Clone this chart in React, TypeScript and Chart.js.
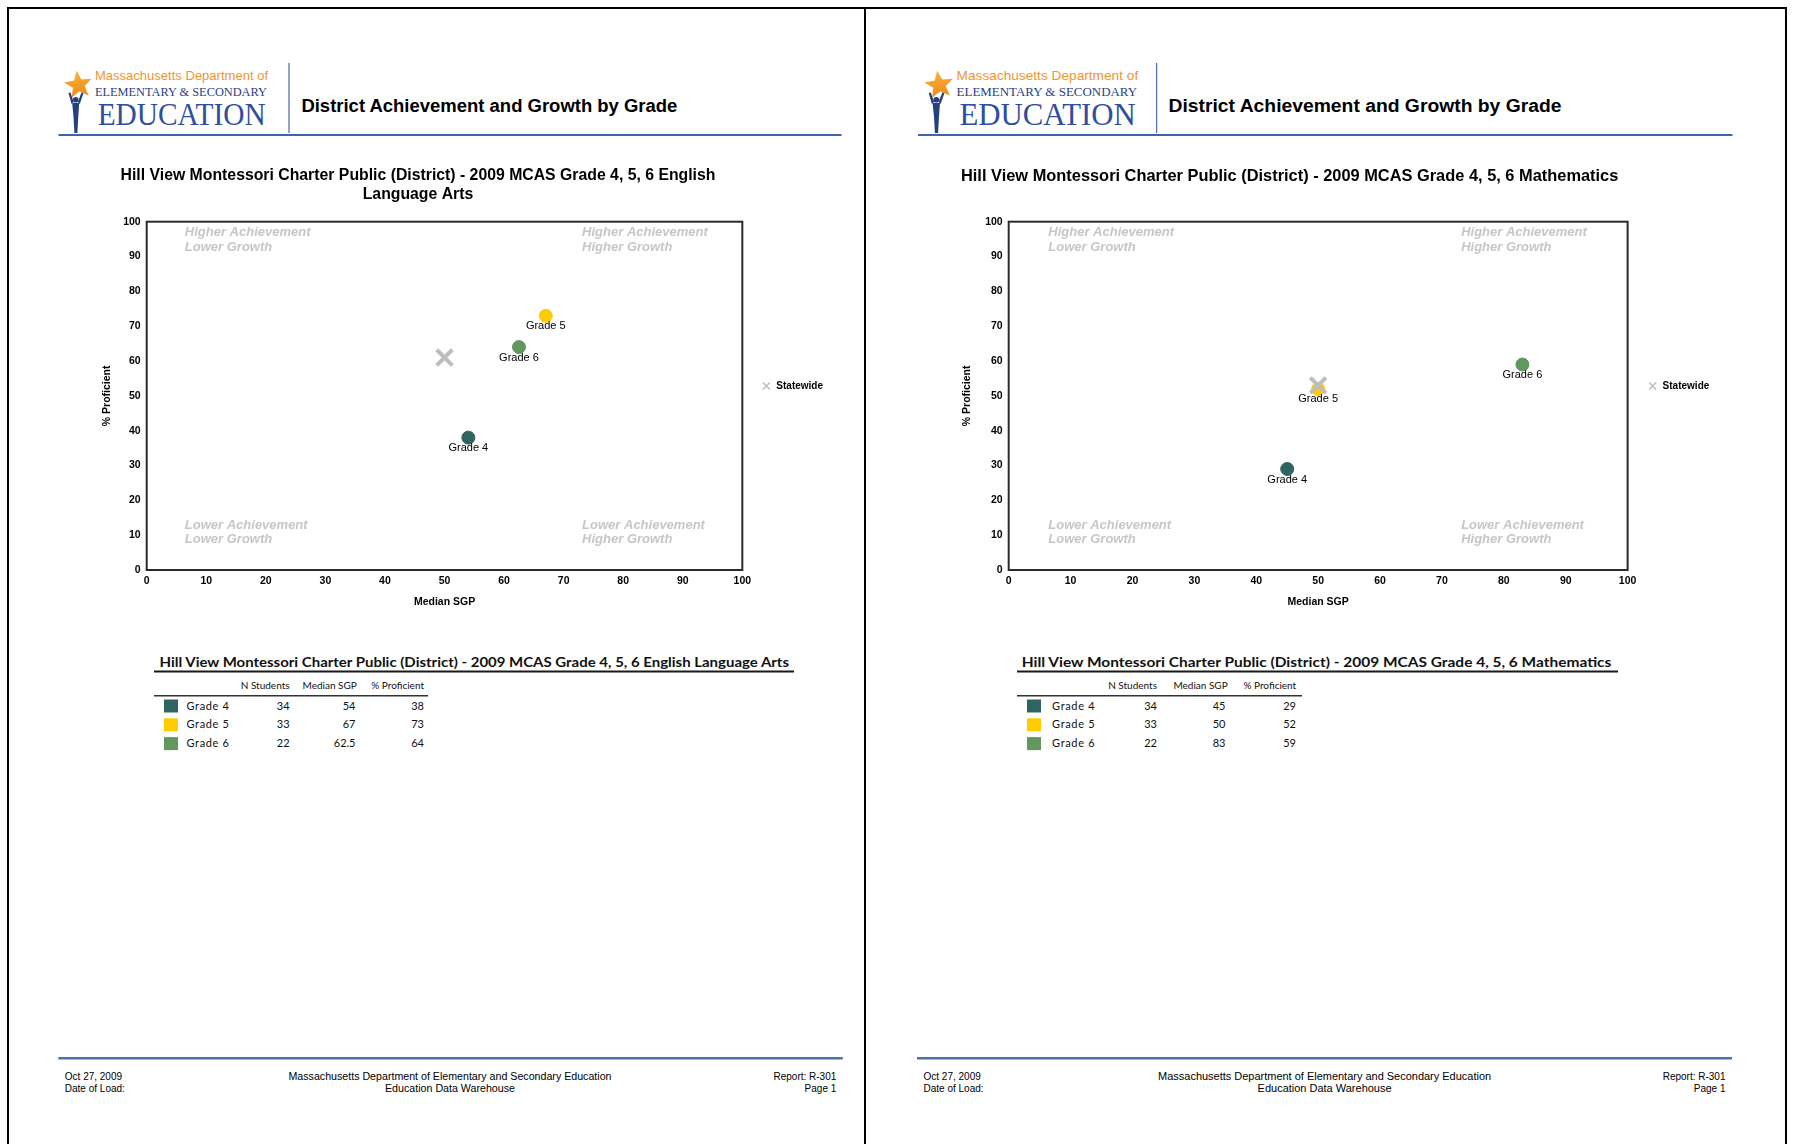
import React, { useEffect, useRef } from "react";
import { Chart, registerables } from "chart.js";

Chart.register(...registerables);

// ---------------- data ----------------
const GRADE_LABELS = ["Grade 4", "Grade 5", "Grade 6"];
const GRADE_COLORS = ["#2F6460", "#FFCC00", "#62985E"];

const ELA_N_STUDENTS = [34, 33, 22];
const ELA_MEDIAN_SGP = [54, 67, 62.5];
const ELA_PCT_PROFICIENT = [38, 73, 64];

const MATH_N_STUDENTS = [34, 33, 22];
const MATH_MEDIAN_SGP = [45, 50, 83];
const MATH_PCT_PROFICIENT = [29, 52, 59];

const STATEWIDE_LABEL = "Statewide";
const STATEWIDE_COLOR = "#BDBDBD";
const ELA_STATEWIDE = [50, 61]; // [median SGP, % proficient]
const MATH_STATEWIDE = [50, 53];

const AXIS_MIN = 0;
const AXIS_MAX = 100;
const AXIS_STEP = 10;
const X_AXIS_TITLE = "Median SGP";
const Y_AXIS_TITLE = "% Proficient";

const QUADRANT_TEXT = [
  ["Higher Achievement", "Lower Growth"],
  ["Higher Achievement", "Higher Growth"],
  ["Lower Achievement", "Lower Growth"],
  ["Lower Achievement", "Higher Growth"],
];
// anchors of the quadrant captions, in axis units
const QUADRANT_ANCHOR_X = [6.4, 73.1, 6.4, 73.1];
const QUADRANT_ANCHOR_Y = [96.8, 96.8, 12.9, 12.9];

const TABLE_COLUMNS = ["N Students", "Median SGP", "% Proficient"];

const ELA_TITLE_LINES = [
  "Hill View Montessori Charter Public (District) - 2009 MCAS Grade 4, 5, 6 English",
  "Language Arts",
];
const MATH_TITLE_LINES = [
  "Hill View Montessori Charter Public (District) - 2009 MCAS Grade 4, 5, 6 Mathematics",
];
const ELA_TABLE_TITLE =
  "Hill View Montessori Charter Public (District) - 2009 MCAS Grade 4, 5, 6 English Language Arts";
const MATH_TABLE_TITLE =
  "Hill View Montessori Charter Public (District) - 2009 MCAS Grade 4, 5, 6 Mathematics";

const REPORT_TITLE = "District Achievement and Growth by Grade";
const FOOTER_DATE = "Oct 27, 2009";
const FOOTER_LOAD = "Date of Load:";
const FOOTER_ORG = "Massachusetts Department of Elementary and Secondary Education";
const FOOTER_WAREHOUSE = "Education Data Warehouse";
const FOOTER_REPORT = "Report: R-301";
const FOOTER_PAGE = "Page 1";

// ---------------- styles ----------------
const SANS = "'Liberation Sans', Arial, sans-serif";
const SERIF = "'Liberation Serif', 'Times New Roman', serif";
const TABLE_FONT = "Lato, 'Open Sans', sans-serif";
const RULE_BLUE = "#3F65A6";

Chart.defaults.font.family = SANS;

// ---------------- chart plugins ----------------
const framePlugin = {
  id: "plotFrame",
  beforeDatasetsDraw(chart: any) {
    const { ctx, chartArea } = chart;
    ctx.save();
    ctx.strokeStyle = "#2b2b2b";
    ctx.lineWidth = 2;
    ctx.strokeRect(chartArea.left, chartArea.top, chartArea.right - chartArea.left, chartArea.bottom - chartArea.top);
    ctx.restore();
  },
};

const quadrantPlugin = {
  id: "quadrantCaptions",
  beforeDatasetsDraw(chart: any) {
    const { ctx, scales } = chart;
    ctx.save();
    ctx.font = `italic bold 13px ${SANS}`;
    ctx.fillStyle = "#C6C6C6";
    ctx.textAlign = "left";
    ctx.textBaseline = "middle";
    QUADRANT_TEXT.forEach((lines, i) => {
      const px = scales.x.getPixelForValue(QUADRANT_ANCHOR_X[i]);
      const py = scales.y.getPixelForValue(QUADRANT_ANCHOR_Y[i]);
      lines.forEach((t, j) => ctx.fillText(t, px, py + j * 14.8));
    });
    ctx.restore();
  },
};

const pointLabelPlugin = {
  id: "pointCaptions",
  afterDatasetsDraw(chart: any) {
    const { ctx } = chart;
    ctx.save();
    ctx.font = `11px ${SANS}`;
    ctx.fillStyle = "#000";
    ctx.textAlign = "center";
    ctx.textBaseline = "middle";
    chart.data.datasets.forEach((ds: any, i: number) => {
      if (!ds.pointCaption) return;
      const meta = chart.getDatasetMeta(i);
      meta.data.forEach((el: any) => ctx.fillText(ds.pointCaption, el.x, el.y + 10.5));
    });
    ctx.restore();
  },
};

type PanelProps = {
  left: number;
  top: number;
  width: number;
  height: number;
  padRight: number;
  yAxisWidth: number;
  yTitlePad: number;
  legendPad: number;
  titleLines: string[];
  titleSize: number;
  titlePadTop: number;
  titlePadBottom: number;
  sgp: number[];
  prof: number[];
  state: number[];
};

function ScatterPanel(p: PanelProps) {
  const ref = useRef<HTMLCanvasElement | null>(null);
  useEffect(() => {
    if (!ref.current) return;
    const datasets: any[] = [
      {
        label: STATEWIDE_LABEL,
        data: [{ x: p.state[0], y: p.state[1] }],
        pointStyle: "crossRot",
        pointRadius: 11,
        pointBorderWidth: 4,
        pointBorderColor: STATEWIDE_COLOR,
        pointBackgroundColor: STATEWIDE_COLOR,
        borderColor: STATEWIDE_COLOR,
        backgroundColor: STATEWIDE_COLOR,
      },
      ...GRADE_LABELS.map((g, i) => ({
        label: g,
        pointCaption: g,
        data: [{ x: p.sgp[i], y: p.prof[i] }],
        pointStyle: "circle",
        pointRadius: 6.5,
        pointBorderWidth: 1,
        pointBackgroundColor: GRADE_COLORS[i],
        pointBorderColor: GRADE_COLORS[i],
        borderColor: GRADE_COLORS[i],
        backgroundColor: GRADE_COLORS[i],
      })),
    ];
    const tickFont = { size: 10.5, weight: "bold" as const };
    const chart = new Chart(ref.current, {
      type: "scatter",
      data: { datasets },
      plugins: [framePlugin, quadrantPlugin, pointLabelPlugin],
      options: {
        responsive: false,
        animation: false,
        devicePixelRatio: 1,
        events: [],
        layout: { padding: { left: 0, right: p.padRight, top: 0, bottom: 0 } },
        scales: {
          x: {
            type: "linear",
            position: "bottom",
            min: AXIS_MIN,
            max: AXIS_MAX,
            ticks: { stepSize: AXIS_STEP, padding: 5, color: "#000", font: tickFont },
            grid: { display: false, drawTicks: false },
            border: { display: false },
            title: {
              display: true,
              text: X_AXIS_TITLE,
              color: "#000",
              font: { size: 10.5, weight: "bold" },
              padding: { top: 0, bottom: 9 },
            },
            afterFit: (s: any) => {
              s.height = 47;
            },
          },
          y: {
            type: "linear",
            position: "left",
            min: AXIS_MIN,
            max: AXIS_MAX,
            ticks: { stepSize: AXIS_STEP, padding: 6, color: "#000", font: tickFont },
            grid: { display: false, drawTicks: false },
            border: { display: false },
            title: {
              display: true,
              text: Y_AXIS_TITLE,
              color: "#000",
              font: { size: 10.5, weight: "bold" },
              padding: { top: p.yTitlePad, bottom: 0 },
            },
            afterFit: (s: any) => {
              s.width = p.yAxisWidth;
            },
          },
        },
        plugins: {
          title: {
            display: true,
            text: p.titleLines,
            color: "#000",
            font: { size: p.titleSize, weight: "bold", lineHeight: 1.15 },
            padding: { top: p.titlePadTop, bottom: p.titlePadBottom },
          },
          legend: {
            display: true,
            position: "right",
            align: "center",
            labels: {
              usePointStyle: true,
              boxWidth: 10,
              boxHeight: 7,
              padding: p.legendPad,
              color: "#000",
              font: { size: 10, weight: "bold" },
              filter: (item: any) => item.text === STATEWIDE_LABEL,
              generateLabels: (c: any) =>
                (Chart.defaults.plugins.legend.labels.generateLabels as any)(c).map((l: any) => ({
                  ...l,
                  lineWidth: 1.5,
                  strokeStyle: STATEWIDE_COLOR,
                })),
            },
          },
          tooltip: { enabled: false },
        },
      } as any,
    });
    return () => chart.destroy();
  }, []);
  return (
    <canvas
      ref={ref}
      width={p.width}
      height={p.height}
      style={{ position: "absolute", left: p.left, top: p.top, width: p.width, height: p.height }}
    />
  );
}

// ---------------- static report parts ----------------
function starPoints(cx: number, cy: number, R: number, r: number) {
  const pts: string[] = [];
  for (let k = 0; k < 10; k++) {
    const a = -Math.PI / 2 + k * (Math.PI / 5);
    const rad = k % 2 === 0 ? R : r;
    pts.push(`${(cx + rad * Math.cos(a)).toFixed(2)},${(cy + rad * Math.sin(a)).toFixed(2)}`);
  }
  return pts.join(" ");
}

function Logo({ x, sx }: { x: number; sx: number }) {
  return (
    <g transform={`translate(${x},0) scale(${sx},1)`}>
      <defs>
        <linearGradient id={`starGrad${x}`} x1="0" y1="0" x2="0" y2="1">
          <stop offset="0" stopColor="#F9B233" />
          <stop offset="1" stopColor="#EE8A1C" />
        </linearGradient>
      </defs>
      <polygon points={starPoints(14.5, 85, 14.5, 6.2)} fill={`url(#starGrad${x})`} transform="rotate(-8 14.5 85)" />
      <circle cx={11.7} cy={99.8} r={2.8} fill="#23407F" />
      <path d="M7.5 104 L4.5 93 L6.5 92.5 L9.6 102 Z" fill="#23407F" />
      <path d="M15.8 104 L19.5 93 L17.5 92.5 L13.8 102 Z" fill="#23407F" />
      <path d="M8.2 103 L15.2 103 L14.2 118 L13.4 133 L10.4 133 L9.6 118 Z" fill="#23407F" />
      <text x={31} y={80} fontFamily={SANS} fontSize={12} fill="#F0952E" textLength={173} lengthAdjust="spacingAndGlyphs">
        Massachusetts Department of
      </text>
      <text x={31} y={96.3} fontFamily={SERIF} fontSize={13} fill="#2B3F86" textLength={172} lengthAdjust="spacingAndGlyphs">
        ELEMENTARY &amp; SECONDARY
      </text>
      <text x={33.7} y={124.7} fontFamily={SERIF} fontSize={31} fill="#2F4E9E" textLength={168} lengthAdjust="spacingAndGlyphs">
        EDUCATION
      </text>
    </g>
  );
}

type TableGeom = {
  titleX: number;
  titleLen: number;
  ruleX1: number;
  ruleX2: number;
  headerEnds: number[];
  headerRuleX2: number;
  swatchX: number;
  labelX: number;
  valueEnds: number[];
};

function StatsTable({ g, title, n, sgp, prof }: { g: TableGeom; title: string; n: number[]; sgp: number[]; prof: number[] }) {
  const rowBase = [709.5, 728.3, 747.1];
  const cols = [n, sgp, prof];
  return (
    <g>
      <text x={g.titleX} y={667} fontFamily={TABLE_FONT} fontWeight="bold" fontSize={14} fill="#111" textLength={g.titleLen} lengthAdjust="spacingAndGlyphs">
        {title}
      </text>
      <line x1={g.ruleX1} x2={g.ruleX2} y1={671.5} y2={671.5} stroke="#1a1a1a" strokeWidth={1.8} />
      {TABLE_COLUMNS.map((c, i) => (
        <text key={c} x={g.headerEnds[i]} y={689} textAnchor="end" fontFamily={TABLE_FONT} fontSize={10} fill="#111">
          {c}
        </text>
      ))}
      <line x1={g.ruleX1} x2={g.headerRuleX2} y1={695.7} y2={695.7} stroke="#333" strokeWidth={1.4} />
      {GRADE_LABELS.map((lab, r) => (
        <g key={lab}>
          <rect x={g.swatchX} y={rowBase[r] - 10} width={14} height={13} fill={GRADE_COLORS[r]} />
          <text x={g.labelX} y={rowBase[r]} fontFamily={TABLE_FONT} fontSize={11} fill="#111" textLength={42.6} lengthAdjust="spacing">
            {lab}
          </text>
          {cols.map((col, ci) => (
            <text key={ci} x={g.valueEnds[ci]} y={rowBase[r]} textAnchor="end" fontFamily={TABLE_FONT} fontSize={11} fill="#111">
              {String(col[r])}
            </text>
          ))}
        </g>
      ))}
    </g>
  );
}

function Footer({ x1, x2, center, orgLen, whLen }: { x1: number; x2: number; center: number; orgLen: number; whLen: number }) {
  const fs = 10;
  return (
    <g fontFamily={SANS} fontSize={fs} fill="#000">
      <line x1={x1} x2={x2} y1={1058.3} y2={1058.3} stroke="#4E73A8" strokeWidth={2.4} />
      <text x={x1 + 6.5} y={1079.5}>{FOOTER_DATE}</text>
      <text x={x1 + 6.5} y={1092}>{FOOTER_LOAD}</text>
      <text x={center} y={1079.5} textAnchor="middle" textLength={orgLen} lengthAdjust="spacingAndGlyphs">{FOOTER_ORG}</text>
      <text x={center} y={1092} textAnchor="middle" textLength={whLen} lengthAdjust="spacingAndGlyphs">{FOOTER_WAREHOUSE}</text>
      <text x={x2 - 6.5} y={1079.5} textAnchor="end">{FOOTER_REPORT}</text>
      <text x={x2 - 6.5} y={1092} textAnchor="end">{FOOTER_PAGE}</text>
    </g>
  );
}

function Header({ logoX, logoSx, dividerX, titleX, titleLen, ruleX1, ruleX2 }: any) {
  return (
    <g>
      <Logo x={logoX} sx={logoSx} />
      <line x1={dividerX} x2={dividerX} y1={63} y2={133} stroke="#5674A8" strokeWidth={1.3} />
      <text x={titleX} y={112} fontFamily={SANS} fontWeight="bold" fontSize={18.3} fill="#000" textLength={titleLen} lengthAdjust="spacingAndGlyphs">
        {REPORT_TITLE}
      </text>
      <line x1={ruleX1} x2={ruleX2} y1={135} y2={135} stroke={RULE_BLUE} strokeWidth={2} />
    </g>
  );
}

export default function App() {
  return (
    <div style={{ position: "absolute", left: 0, top: 0, width: 1794, height: 1144, background: "#fff", overflow: "hidden" }}>
      <svg width={1794} height={1144} style={{ position: "absolute", left: 0, top: 0 }}>
        {/* page frames */}
        <line x1={7} x2={1787} y1={8} y2={8} stroke="#000" strokeWidth={2} />
        <line x1={8} x2={8} y1={7} y2={1144} stroke="#000" strokeWidth={2} />
        <line x1={865} x2={865} y1={7} y2={1144} stroke="#000" strokeWidth={2} />
        <line x1={1786} x2={1786} y1={7} y2={1144} stroke="#000" strokeWidth={2} />

        <Header logoX={64} logoSx={1} dividerX={289} titleX={301.4} titleLen={376} ruleX1={58.5} ruleX2={841.5} />
        <Header logoX={924} logoSx={1.05} dividerX={1156.6} titleX={1168.5} titleLen={393} ruleX1={918} ruleX2={1732.5} />

        <StatsTable
          g={{
            titleX: 159.5,
            titleLen: 629.5,
            ruleX1: 154,
            ruleX2: 794,
            headerEnds: [289.6, 356.8, 424],
            headerRuleX2: 428,
            swatchX: 164,
            labelX: 186.4,
            valueEnds: [289.6, 355.5, 424],
          }}
          title={ELA_TABLE_TITLE}
          n={ELA_N_STUDENTS}
          sgp={ELA_MEDIAN_SGP}
          prof={ELA_PCT_PROFICIENT}
        />
        <StatsTable
          g={{
            titleX: 1021.7,
            titleLen: 589.7,
            ruleX1: 1017,
            ruleX2: 1618,
            headerEnds: [1157, 1227.7, 1296.2],
            headerRuleX2: 1302,
            swatchX: 1027,
            labelX: 1052,
            valueEnds: [1157, 1225.5, 1296],
          }}
          title={MATH_TABLE_TITLE}
          n={MATH_N_STUDENTS}
          sgp={MATH_MEDIAN_SGP}
          prof={MATH_PCT_PROFICIENT}
        />

        <Footer x1={58.3} x2={842.8} center={450} orgLen={323} whLen={130} />
        <Footer x1={917} x2={1732} center={1324.6} orgLen={333} whLen={134} />
      </svg>

      <ScatterPanel
        left={3}
        top={155}
        width={837}
        height={462}
        padRight={7}
        yAxisWidth={143.7}
        yTitlePad={98}
        legendPad={19}
        titleLines={ELA_TITLE_LINES}
        titleSize={15.8}
        titlePadTop={11.9}
        titlePadBottom={18.46}
        sgp={ELA_MEDIAN_SGP}
        prof={ELA_PCT_PROFICIENT}
        state={ELA_STATEWIDE}
      />
      <ScatterPanel
        left={860}
        top={155}
        width={866}
        height={462}
        padRight={6.7}
        yAxisWidth={148.7}
        yTitlePad={100.7}
        legendPad={20}
        titleLines={MATH_TITLE_LINES}
        titleSize={16.4}
        titlePadTop={11.57}
        titlePadBottom={36.27}
        sgp={MATH_MEDIAN_SGP}
        prof={MATH_PCT_PROFICIENT}
        state={MATH_STATEWIDE}
      />
    </div>
  );
}
